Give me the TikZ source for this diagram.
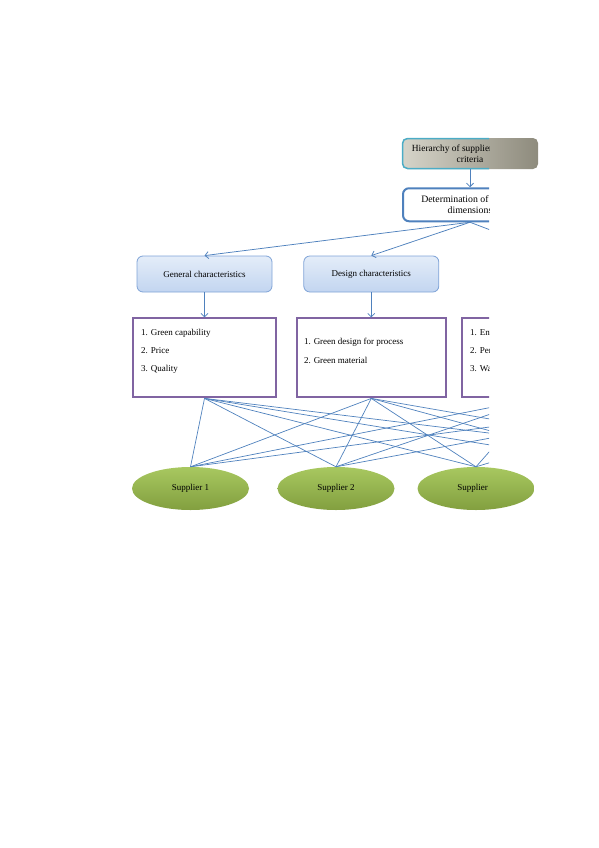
\documentclass[tikz,border=0pt]{standalone}
\usepackage{fontspec}
\setmainfont{Liberation Serif}
\usetikzlibrary{arrows.meta, positioning, shapes.geometric}

\definecolor{linkblue}{HTML}{4F81BD}
\definecolor{listpurple}{HTML}{8064A2}
\definecolor{hiercyan}{HTML}{4BACC6}
\definecolor{headtop}{HTML}{E4EDF9}
\definecolor{headbot}{HTML}{C2D5F0}
\definecolor{headline}{HTML}{7FA3D7}
\definecolor{suptop}{HTML}{A8C860}
\definecolor{supbot}{HTML}{829F3F}
\definecolor{greyleft}{HTML}{D6D4C9}
\definecolor{greymid}{HTML}{F0EFE9}
\definecolor{greyright}{HTML}{8E8B7D}

\begin{document}
\begin{tikzpicture}[x=1pt, y=-1pt,
        font=\fontsize{9}{10.5}\selectfont,
        hierbox/.style={rectangle, draw=hiercyan, line width=1.5pt,
                     rounded corners=5pt, minimum width=135pt,
                     minimum height=30pt, align=center, inner sep=2pt,
                     font=\fontsize{9.4}{10.5}\selectfont},
        detbox/.style={rectangle, draw=linkblue, line width=2pt, fill=white,
                     rounded corners=6pt, minimum width=134pt,
                     minimum height=33pt, align=center,
                     font=\fontsize{9.8}{11}\selectfont},
        headbox/.style={rectangle, draw=headline, line width=0.8pt,
                     top color=headtop, bottom color=headbot,
                     rounded corners=6pt, minimum width=135pt,
                     minimum height=36pt},
        listbox/.style={rectangle, draw=listpurple, line width=2pt,
                     fill=white, minimum height=79pt},
        itemtext/.style={align=left, inner sep=0pt,
                     font=\fontsize{9}{10}\selectfont},
        supplier/.style={ellipse, top color=suptop, bottom color=supbot,
                     minimum width=117pt, minimum height=43pt, inner sep=0pt},
        arr/.style={-{Straight Barb[length=3.5pt,width=7pt]}, linkblue, line width=0.75pt},
        link/.style={linkblue, line width=0.7pt}
    ]
        \useasboundingbox (0,0) rectangle (599,848);
        % parts that run past the cut
        \shade[left color=greyleft, middle color=greymid, right color=greyright,
               rounded corners=5pt] (402,138) rectangle (538,169);
        \node[supplier] (s3) at (476,488.5) {};

        \begin{scope}
        \clip (0,0) rectangle (489,848);
        \node[hierbox] (hier) at (470,153.5) {Hierarchy of supplier selection\\criteria};
        \node[detbox, below=18pt of hier] (det) {Determination of criteria\\dimensions};

        \node[headbox] (gen) at (204.5,274) {General characteristics};
        \node[headbox, right=31pt of gen] (des) {Design characteristics};
        \coordinate (env) at (559,256);

        \node[listbox, minimum width=143pt, below=25pt of gen] (l1) {};
        \node[listbox, minimum width=149pt, below=25pt of des] (l2) {};
        \node[listbox, minimum width=149pt, right=14pt of l2] (l3) {};
        \coordinate (l4) at (700,399);

        \node[itemtext, below right=12pt and 9pt of l1.north west] (l1t)
            {1. Green capability\\[8pt]2. Price\\[8pt]3. Quality};
        \node[itemtext, below right=21pt and 8pt of l2.north west] (l2t)
            {1. Green design for process\\[9pt]2. Green material};
        \node[itemtext, below right=12pt and 9pt of l3.north west] (l3t)
            {1. Environmental management\\[8pt]2. Performance\\[8pt]3. Waste management};

        \node[supplier] (s1) at (190.5,488.5) {Supplier 1};
        \node[supplier] (s2) at (336,488.5) {Supplier 2};
        \node (s3t) at (s3) {Supplier 3};
        \coordinate (s4) at (619,466);
        \coordinate (s5) at (760,466);

        \draw[arr] (hier)--(det);
        \draw[arr] (det.south)--(gen.north); \draw[arr] (det.south)--(des.north);
        \draw[arr] (det.south)--(env);
        \draw[arr] (gen)--(l1); \draw[arr] (des)--(l2);
        % every criteria group to every supplier
        \foreach \crit in {l1,l2,l3,l4}
            \foreach \supp in {s1,s2,s3,s4,s5}
                \draw[link] (\crit.south)--(\supp.north);
        \end{scope}
    \end{tikzpicture}
\end{document}
